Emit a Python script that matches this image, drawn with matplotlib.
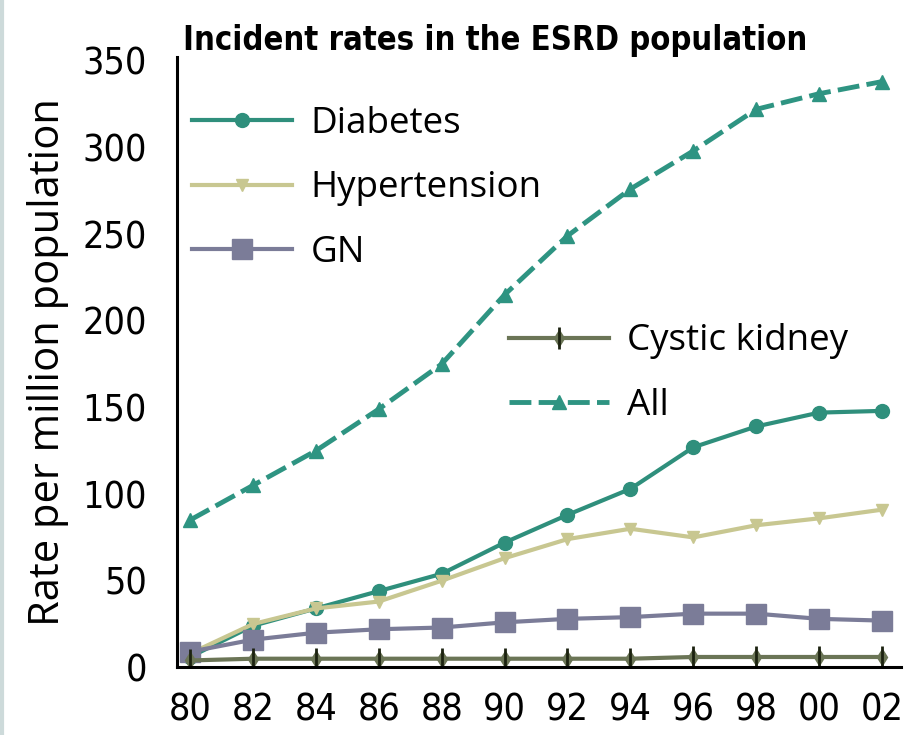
import matplotlib
matplotlib.use("Agg")
from matplotlib import pyplot as plt

anos = [1980, 1982, 1984, 1986, 1988, 1990, 1992, 1994, 1996, 1998, 2000, 2002]
rotulos = ["80", "82", "84", "86", "88", "90", "92", "94", "96", "98", "00", "02"]

diabetes = [6, 24, 34, 44, 54, 72, 88, 103, 127, 139, 147, 148]
hipertensao = [8, 25, 34, 38, 50, 63, 74, 80, 75, 82, 86, 91]
gn = [9, 16, 20, 22, 23, 26, 28, 29, 31, 31, 28, 27]
cistico = [4, 5, 5, 5, 5, 5, 5, 5, 6, 6, 6, 6]
todos = [85, 105, 125, 149, 175, 215, 249, 276, 298, 322, 331, 338]

fig = plt.figure(figsize=(9.1, 7.35), dpi=100)
ax = fig.add_axes([0.195, 0.092, 0.795, 0.83])

# faixa clara na borda esquerda
fig.add_artist(plt.Line2D([0.002, 0.002], [0, 1], color="#cddada", lw=3,
                          transform=fig.transFigure))

l_dia, = ax.plot(anos, diabetes, color="#2f8f7c", lw=3, marker="o", ms=10, label="Diabetes")
l_hip, = ax.plot(anos, hipertensao, color="#c8c791", lw=3, marker="v", ms=9, label="Hypertension")
l_gn, = ax.plot(anos, gn, color="#7b7c98", lw=3, marker="s", ms=14, label="GN")
l_cis, = ax.plot(anos, cistico, color="#6b7556", lw=3, marker="d", ms=8, label="Cystic kidney")
l_cis2, = ax.plot(anos, cistico, color="#1c2210", lw=0, marker="|", ms=16, mew=2)
l_all, = ax.plot(anos, todos, color="#2e9482", lw=3.5, ls=(0, (4.5, 1.5)), marker="^", ms=10,
                 label="All")

ax.set_xlim(1979.6, 2002.6)
ax.set_ylim(0, 352)
ax.set_xticks(anos)
ax.set_xticklabels(rotulos)
ax.set_yticks(range(0, 351, 50))

for t in ax.get_xticklabels() + ax.get_yticklabels():
    t.set_fontfamily("DejaVu Sans")
    t.set_fontstretch("condensed")
    t.set_fontsize(27)
ax.tick_params(axis="x", length=0, pad=18)
ax.tick_params(axis="y", length=0, pad=22)

for s in ["top", "right"]:
    ax.spines[s].set_visible(False)
for s in ["left", "bottom"]:
    ax.spines[s].set_linewidth(2.2)
    ax.spines[s].set_color("black")

ax.set_ylabel("Rate per million population", fontsize=30, family="Open Sans", labelpad=10)
fig.text(0.544, 0.945, "Incident rates in the ESRD population", ha="center", va="center",
         fontsize=23.5, fontweight="bold", family="DejaVu Sans", fontstretch="condensed")

leg1 = ax.legend(handles=[l_dia, l_hip, l_gn], loc="upper left", bbox_to_anchor=(-0.025, 0.975),
                 frameon=False, handlelength=2.7, labelspacing=0.78, handletextpad=0.5,
                 prop={"family": "Open Sans", "size": 26.5})
ax.add_artist(leg1)
ax.legend(handles=[(l_cis, l_cis2), l_all], labels=["Cystic kidney", "All"], loc="upper left",
          bbox_to_anchor=(0.413, 0.618), frameon=False, handlelength=2.7, labelspacing=0.78,
          handletextpad=0.5, prop={"family": "Open Sans", "size": 26.5})

fig.savefig("out.png", dpi=100, facecolor="white")
